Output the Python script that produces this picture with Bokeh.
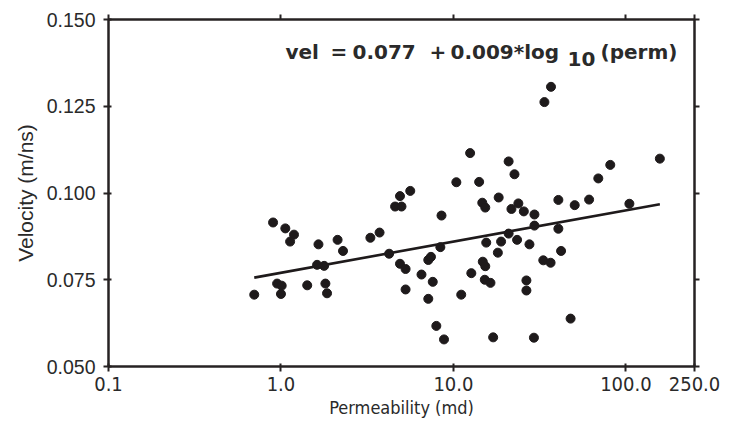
import numpy as np
from bokeh.plotting import figure
from bokeh.models import (FixedTicker, LogAxis, LinearAxis, Label, ColumnDataSource)
from bokeh.embed import file_html
from bokeh.resources import INLINE

# ---- data ----
permeability = [0.70, 0.90, 0.95, 1.01, 1.00, 1.06, 1.19, 1.13, 1.42, 1.65,
                1.62, 1.78, 1.81, 1.85, 2.13, 2.29, 3.30, 3.73, 4.24, 4.90,
                5.62, 4.59, 5.00, 4.90, 5.28, 5.28, 6.53, 7.15, 7.41, 7.59,
                7.15, 7.96, 8.82, 8.40, 8.53, 10.4, 12.5, 14.1, 11.1, 12.7,
                14.8, 15.3, 15.2, 16.4, 15.5, 14.7, 15.3, 17.0, 18.1, 18.9,
                18.3, 20.9, 22.6, 21.7, 23.8, 25.6, 20.9, 23.4, 27.6, 29.5,
                29.5, 26.5, 26.5, 29.3, 33.2, 36.6, 33.7, 36.8, 40.6, 40.6,
                42.1, 47.8, 50.5, 61.2, 69.2, 81.2, 104.8, 157.4]
velocity = [0.0707, 0.0915, 0.0739, 0.0733, 0.0709, 0.0898, 0.0880, 0.0860, 0.0734, 0.0852,
            0.0793, 0.0790, 0.0739, 0.0711, 0.0865, 0.0833, 0.0871, 0.0886, 0.0825, 0.0991,
            0.1006, 0.0961, 0.0961, 0.0796, 0.0781, 0.0722, 0.0765, 0.0807, 0.0816, 0.0744,
            0.0695, 0.0617, 0.0578, 0.0844, 0.0935, 0.1031, 0.1115, 0.1032, 0.0707, 0.0769,
            0.0802, 0.0789, 0.0750, 0.0741, 0.0857, 0.0972, 0.0958, 0.0584, 0.0828, 0.0860,
            0.0987, 0.1091, 0.1054, 0.0954, 0.0970, 0.0947, 0.0883, 0.0865, 0.0852, 0.0938,
            0.0906, 0.0748, 0.0719, 0.0583, 0.0806, 0.0799, 0.1262, 0.1306, 0.0980, 0.0897,
            0.0833, 0.0638, 0.0965, 0.0981, 0.1042, 0.1081, 0.0969, 0.1099]
intercept = 0.077
slope = 0.009

x_ticks = [0.1, 1.0, 10.0, 100.0, 250.0]
x_tick_labels = ["0.1", "1.0", "10.0", "100.0", "250.0"]
y_ticks = [0.05, 0.075, 0.10, 0.125, 0.15]
y_tick_labels = ["0.050", "0.075", "0.100", "0.125", "0.150"]

# fitted line across the data range
fit_x = np.array([min(permeability), max(permeability)])
fit_y = intercept + slope * np.log10(fit_x)

NARROW = "'Liberation Sans Narrow', 'DejaVu Sans Condensed', 'Roboto Condensed', 'Liberation Sans', sans-serif"
REG = "'Liberation Sans', sans-serif"
INK = "#262223"

p = figure(width=737, height=427, x_axis_type="log",
           x_range=(0.1, 250), y_range=(0.05, 0.15),
           output_backend="svg", toolbar_location=None,
           min_border_left=108, min_border_right=43,
           min_border_top=19, min_border_bottom=61)
p.background_fill_color = "white"
p.border_fill_color = "white"
p.xgrid.visible = False
p.ygrid.visible = False
p.outline_line_color = INK
p.outline_line_width = 2

src = ColumnDataSource(dict(x=permeability, y=velocity))
p.scatter("x", "y", source=src, size=9, fill_color="#1e1a1b", line_color="#1e1a1b")
p.line(fit_x, fit_y, line_color="#1e1a1b", line_width=2.6)

# bottom axis
xa = p.xaxis[0]
xa.ticker = FixedTicker(ticks=x_ticks, minor_ticks=[])
xa.major_label_overrides = {t: l for t, l in zip(x_ticks, x_tick_labels)}
xa.axis_label = "Permeability (md)"
ya = p.yaxis[0]
ya.ticker = FixedTicker(ticks=y_ticks, minor_ticks=[])
ya.major_label_overrides = {t: l for t, l in zip(y_ticks, y_tick_labels)}
ya.axis_label = "Velocity (m/ns)"

for ax in (xa, ya):
    ax.axis_line_color = INK
    ax.axis_line_width = 2
    ax.major_tick_line_color = INK
    ax.major_tick_line_width = 2
    ax.major_tick_out = 5
    ax.major_tick_in = 3
    ax.minor_tick_line_color = None
    ax.major_label_text_color = "#2a2a2a"
    ax.axis_label_text_color = "#2a2a2a"
    ax.axis_label_text_font_style = "normal"

xa.major_label_text_font = NARROW
xa.major_label_text_font_size = "20px"
xa.axis_label_text_font = NARROW
xa.axis_label_text_font_size = "18px"
xa.major_label_standoff = 5
xa.axis_label_standoff = 3

ya.major_label_text_font = REG
ya.major_label_text_font_size = "19.5px"
ya.major_label_standoff = 8
ya.axis_label_text_font = REG
ya.axis_label_text_font_size = "21px"
ya.axis_label_standoff = 7

# top and right frame axes with ticks, no labels
top = LogAxis(ticker=FixedTicker(ticks=x_ticks, minor_ticks=[]))
right = LinearAxis(ticker=FixedTicker(ticks=y_ticks, minor_ticks=[]))
for ax in (top, right):
    ax.axis_line_color = INK
    ax.axis_line_width = 2
    ax.major_tick_line_color = INK
    ax.major_tick_line_width = 2
    ax.major_tick_out = 5
    ax.major_tick_in = 0
    ax.minor_tick_line_color = None
    ax.major_label_text_color = None
    ax.major_label_text_font_size = "1px"
    ax.major_label_standoff = 0
p.add_layout(top, "above")
p.add_layout(right, "right")

# equation text (screen units relative to the plot frame)
eq_font = "'DejaVu Sans', sans-serif"
pieces = [("vel", 177), ("=", 222), ("0.077", 244), ("+", 321),
          ("0.009*log", 342), ("(perm)", 492)]
for txt, sx in pieces:
    p.add_layout(Label(x=sx, y=315, x_units="screen", y_units="screen", text=txt,
                       text_font=eq_font, text_font_size="20px",
                       text_font_style="bold",
                       text_color="#2a2a2a", text_baseline="alphabetic"))
p.add_layout(Label(x=459, y=308, x_units="screen", y_units="screen", text="10",
                   text_font=eq_font, text_font_size="20px", text_font_style="bold",
                   text_color="#2a2a2a", text_baseline="alphabetic"))

open("out.html", "w").write(file_html(p, INLINE))
